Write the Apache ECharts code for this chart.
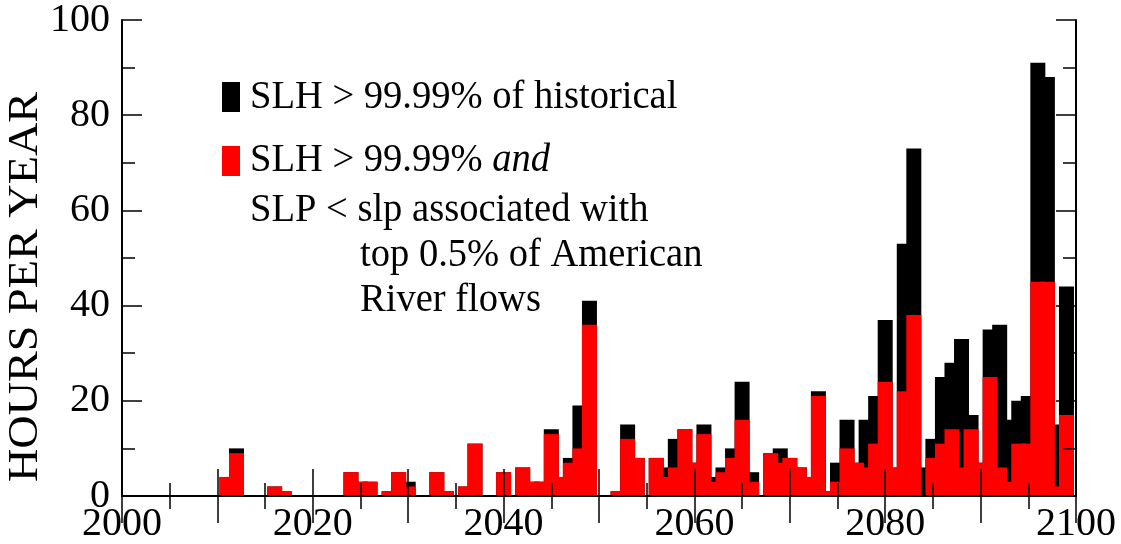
<!DOCTYPE html>
<html>
<head>
<meta charset="utf-8">
<script src="https://cdn.jsdelivr.net/npm/echarts@6/dist/echarts.min.js"></script>
<style>html,body{margin:0;padding:0;background:#fff;}#c{width:1121px;height:544px;}</style>
</head>
<body>
<div id="c"></div>
<script>
// Years 2000..2099 (one value per year)
const startYear = 2000;
// Total hours: SLH > 99.99% of historical
const slhHours = [
  0,0,0,0,0,0,0,0,0,0,
  0,4,10,0,0,0,2,1,0,0,
  0,0,0,0,5,3,3,0,1,5,
  3,0,0,5,1,0,2,11,0,0,
  5,0,6,3,3,14,4,8,19,41,
  0,0,1,15,8,0,8,6,12,14,
  7,15,4,6,10,24,5,0,9,10,
  8,6,4,22,1,7,16,7,16,21,
  37,6,53,73,6,12,25,28,33,17,
  7,35,36,16,20,21,91,88,15,44
];
// Hours: SLH > 99.99% and SLP < slp associated with top 0.5% of American River flows
const slhSlpHours = [
  0,0,0,0,0,0,0,0,0,0,
  0,4,9,0,0,0,2,1,0,0,
  0,0,0,0,5,3,3,0,1,5,
  2,0,0,5,1,0,2,11,0,0,
  5,0,6,3,3,13,4,7,10,36,
  0,0,1,12,8,0,8,4,6,14,
  7,13,3,5,8,16,3,0,9,7,
  8,6,4,21,1,3,10,7,6,11,
  24,6,22,38,0,8,11,14,6,14,
  7,25,6,3,11,11,45,45,2,17
];
const xTicks = [2000, 2020, 2040, 2060, 2080, 2100];
const yTicks = [0, 20, 40, 60, 80, 100];

const toPairs = arr => arr.map((v, i) => [startYear + i, v]);
const FONT = 'Liberation Serif';

const chart = echarts.init(document.getElementById('c'), null, {renderer: 'canvas'});
const axisLine = {show: true, lineStyle: {color: '#000', width: 2}};
const tickStyle = {color: '#000', width: 1.5};
const baseX = {
  type: 'value', min: 2000, max: 2100, interval: 10, z: 10,
  axisLine: axisLine,
  axisTick: {show: true, inside: true, length: 27, lineStyle: tickStyle},
  minorTick: {show: true, splitNumber: 2, length: 13, lineStyle: tickStyle},
  splitLine: {show: false}
};
const baseY = {
  type: 'value', min: 0, max: 100, interval: 20, z: 10,
  axisLine: axisLine,
  axisTick: {show: true, inside: true, length: 20, lineStyle: tickStyle},
  minorTick: {show: true, splitNumber: 2, length: 13, lineStyle: tickStyle},
  splitLine: {show: false}
};
const option = {
  backgroundColor: '#fff',
  animation: false,
  grid: {left: 122, right: 45, top: 20, bottom: 46, containLabel: false},
  xAxis: [
    Object.assign({}, baseX, {
      position: 'bottom',
      axisLabel: {show: true, margin: 8, fontFamily: FONT, fontSize: 40, color: '#000',
        formatter: v => xTicks.indexOf(v) >= 0 ? String(v) : ''}
    }),
    Object.assign({}, baseX, {position: 'top', axisLabel: {show: false}})
  ],
  yAxis: [
    Object.assign({}, baseY, {
      position: 'left',
      axisLabel: {show: true, margin: 12, fontFamily: FONT, fontSize: 40, color: '#000',
        formatter: v => yTicks.indexOf(v) >= 0 ? String(v) : ''}
    }),
    Object.assign({}, baseY, {position: 'right', axisLabel: {show: false}})
  ],
  series: [
    {
      name: 'SLH > 99.99% of historical', type: 'bar', xAxisIndex: 0, yAxisIndex: 0,
      data: toPairs(slhHours), barWidth: 15, barGap: '-100%',
      itemStyle: {color: '#000'}, z: 2
    },
    {
      name: 'SLH > 99.99% and SLP < slp', type: 'bar', xAxisIndex: 0, yAxisIndex: 0,
      data: toPairs(slhSlpHours), barWidth: 15, barGap: '-100%',
      itemStyle: {color: '#ff0000'}, z: 3
    }
  ],
  graphic: [
    {type: 'text', x: 26, y: 287, rotation: Math.PI / 2, scaleX: 1.1,
      style: {text: 'HOURS PER YEAR', fontFamily: FONT, fontSize: 42, fill: '#000',
        align: 'center', verticalAlign: 'middle'}},
    {type: 'rect', shape: {x: 222, y: 82, width: 18, height: 30}, style: {fill: '#000'}},
    {type: 'text', x: 250, y: 97, scaleX: 0.94, style: {text: 'SLH > 99.99% of historical', fontFamily: FONT,
      fontSize: 41, fill: '#000', verticalAlign: 'middle'}},
    {type: 'rect', shape: {x: 222, y: 146, width: 18, height: 30}, style: {fill: '#ff0000'}},
    {type: 'text', x: 250, y: 160, scaleX: 0.94, style: {
      text: '{n|SLH > 99.99% }{i|and}',
      rich: {n: {fontFamily: FONT, fontSize: 41, fill: '#000'},
             i: {fontFamily: FONT, fontSize: 41, fontStyle: 'italic', fill: '#000'}},
      verticalAlign: 'middle'}},
    {type: 'text', x: 250, y: 210, scaleX: 0.94, style: {text: 'SLP < slp associated with', fontFamily: FONT,
      fontSize: 41, fill: '#000', verticalAlign: 'middle'}},
    {type: 'text', x: 360, y: 255, scaleX: 0.94, style: {text: 'top 0.5% of American', fontFamily: FONT,
      fontSize: 41, fill: '#000', verticalAlign: 'middle'}},
    {type: 'text', x: 360, y: 300, scaleX: 0.94, style: {text: 'River flows', fontFamily: FONT,
      fontSize: 41, fill: '#000', verticalAlign: 'middle'}}
  ]
};
chart.setOption(option);
</script>
</body>
</html>
